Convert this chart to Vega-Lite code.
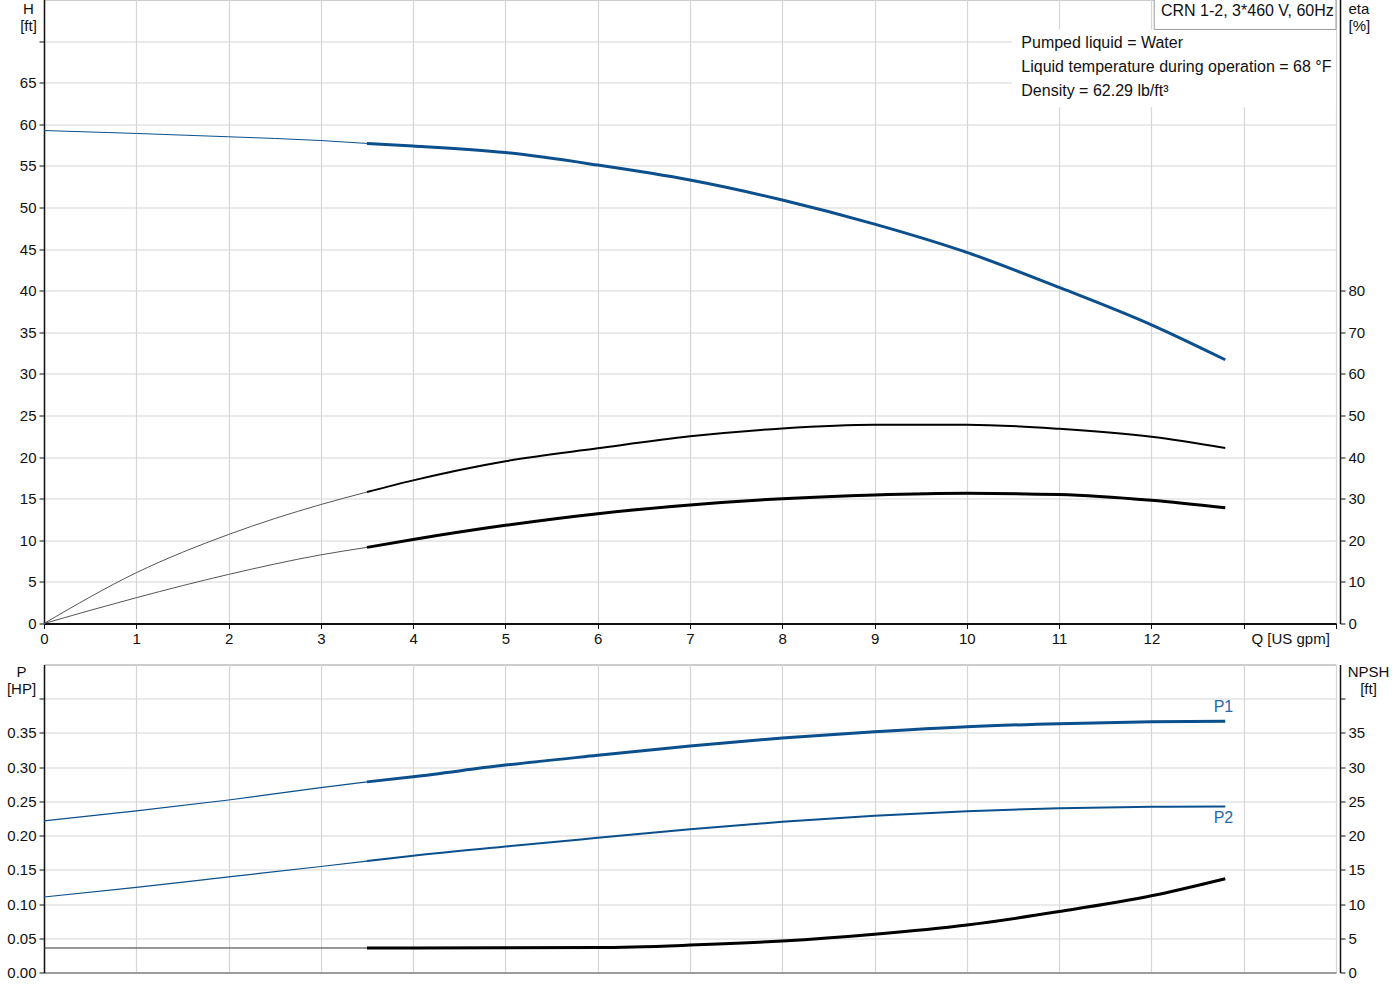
{
  "$schema": "https://vega.github.io/schema/vega-lite/v6.json",
  "description": "CRN 1-2 pump curves: head, efficiency, power and NPSH against flow.",
  "padding": {"left": 5, "top": -1.5, "right": 0, "bottom": 0},
  "background": "white",
  "config": {
    "font": "Liberation Sans",
    "view": {"stroke": "#9a9a9a", "strokeWidth": 1},
    "axis": {
      "labelFont": "Liberation Sans",
      "labelFontSize": 15,
      "labelColor": "#111111",
      "titleFont": "Liberation Sans",
      "titleFontSize": 15,
      "titleFontWeight": "normal",
      "titleColor": "#111111",
      "gridColor": "#d6d6d6",
      "gridWidth": 1.2,
      "tickColor": "#111111",
      "domainColor": "#111111",
      "domainWidth": 1.5,
      "tickSize": 5,
      "labelPadding": 3,
      "labelFlush": false
    },
    "text": {"font": "Liberation Sans"}
  },
  "datasets": {
    "curves": [
      {"curve": "H", "seg": "thin", "q": 0, "v": 59.25},
      {"curve": "H", "seg": "thin", "q": 1, "v": 58.9},
      {"curve": "H", "seg": "thin", "q": 2, "v": 58.5},
      {"curve": "H", "seg": "thin", "q": 3, "v": 58.05},
      {"curve": "H", "seg": "thin", "q": 3.5, "v": 57.7},
      {"curve": "H", "seg": "thick", "q": 3.5, "v": 57.7},
      {"curve": "H", "seg": "thick", "q": 4, "v": 57.4},
      {"curve": "H", "seg": "thick", "q": 5, "v": 56.6},
      {"curve": "H", "seg": "thick", "q": 6, "v": 55.1},
      {"curve": "H", "seg": "thick", "q": 7, "v": 53.3},
      {"curve": "H", "seg": "thick", "q": 8, "v": 50.9},
      {"curve": "H", "seg": "thick", "q": 9, "v": 48.0},
      {"curve": "H", "seg": "thick", "q": 10, "v": 44.6},
      {"curve": "H", "seg": "thick", "q": 11, "v": 40.4},
      {"curve": "H", "seg": "thick", "q": 12, "v": 35.9},
      {"curve": "H", "seg": "thick", "q": 12.8, "v": 31.7},

      {"curve": "eta1", "seg": "thin", "q": 0, "v": 0},
      {"curve": "eta1", "seg": "thin", "q": 1, "v": 12.2},
      {"curve": "eta1", "seg": "thin", "q": 2, "v": 21.4},
      {"curve": "eta1", "seg": "thin", "q": 3, "v": 28.6},
      {"curve": "eta1", "seg": "thin", "q": 3.5, "v": 31.6},
      {"curve": "eta1", "seg": "thick", "q": 3.5, "v": 31.6},
      {"curve": "eta1", "seg": "thick", "q": 4, "v": 34.4},
      {"curve": "eta1", "seg": "thick", "q": 5, "v": 39.0},
      {"curve": "eta1", "seg": "thick", "q": 6, "v": 42.1},
      {"curve": "eta1", "seg": "thick", "q": 7, "v": 45.0},
      {"curve": "eta1", "seg": "thick", "q": 8, "v": 46.9},
      {"curve": "eta1", "seg": "thick", "q": 9, "v": 47.8},
      {"curve": "eta1", "seg": "thick", "q": 10, "v": 47.8},
      {"curve": "eta1", "seg": "thick", "q": 11, "v": 46.8},
      {"curve": "eta1", "seg": "thick", "q": 12, "v": 44.9},
      {"curve": "eta1", "seg": "thick", "q": 12.8, "v": 42.2},

      {"curve": "eta2", "seg": "thin", "q": 0, "v": 0},
      {"curve": "eta2", "seg": "thin", "q": 1, "v": 6.2},
      {"curve": "eta2", "seg": "thin", "q": 2, "v": 11.8},
      {"curve": "eta2", "seg": "thin", "q": 3, "v": 16.5},
      {"curve": "eta2", "seg": "thin", "q": 3.5, "v": 18.3},
      {"curve": "eta2", "seg": "thick", "q": 3.5, "v": 18.3},
      {"curve": "eta2", "seg": "thick", "q": 4, "v": 20.2},
      {"curve": "eta2", "seg": "thick", "q": 5, "v": 23.6},
      {"curve": "eta2", "seg": "thick", "q": 6, "v": 26.4},
      {"curve": "eta2", "seg": "thick", "q": 7, "v": 28.5},
      {"curve": "eta2", "seg": "thick", "q": 8, "v": 30.0},
      {"curve": "eta2", "seg": "thick", "q": 9, "v": 30.9},
      {"curve": "eta2", "seg": "thick", "q": 10, "v": 31.3},
      {"curve": "eta2", "seg": "thick", "q": 11, "v": 31.0},
      {"curve": "eta2", "seg": "thick", "q": 12, "v": 29.6},
      {"curve": "eta2", "seg": "thick", "q": 12.8, "v": 27.8},

      {"curve": "P1", "seg": "thin", "q": 0, "v": 0.2215},
      {"curve": "P1", "seg": "thin", "q": 1, "v": 0.236},
      {"curve": "P1", "seg": "thin", "q": 2, "v": 0.252},
      {"curve": "P1", "seg": "thin", "q": 3, "v": 0.270},
      {"curve": "P1", "seg": "thin", "q": 3.5, "v": 0.2785},
      {"curve": "P1", "seg": "thick", "q": 3.5, "v": 0.2785},
      {"curve": "P1", "seg": "thick", "q": 4, "v": 0.286},
      {"curve": "P1", "seg": "thick", "q": 5, "v": 0.303},
      {"curve": "P1", "seg": "thick", "q": 6, "v": 0.3173},
      {"curve": "P1", "seg": "thick", "q": 7, "v": 0.3309},
      {"curve": "P1", "seg": "thick", "q": 8, "v": 0.3426},
      {"curve": "P1", "seg": "thick", "q": 9, "v": 0.3518},
      {"curve": "P1", "seg": "thick", "q": 10, "v": 0.3591},
      {"curve": "P1", "seg": "thick", "q": 11, "v": 0.3635},
      {"curve": "P1", "seg": "thick", "q": 12, "v": 0.3662},
      {"curve": "P1", "seg": "thick", "q": 12.8, "v": 0.3670},

      {"curve": "P2", "seg": "thin", "q": 0, "v": 0.1103},
      {"curve": "P2", "seg": "thin", "q": 1, "v": 0.1245},
      {"curve": "P2", "seg": "thin", "q": 2, "v": 0.1397},
      {"curve": "P2", "seg": "thin", "q": 3, "v": 0.1549},
      {"curve": "P2", "seg": "thin", "q": 3.5, "v": 0.1628},
      {"curve": "P2", "seg": "thick", "q": 3.5, "v": 0.1628},
      {"curve": "P2", "seg": "thick", "q": 4, "v": 0.1706},
      {"curve": "P2", "seg": "thick", "q": 5, "v": 0.1840},
      {"curve": "P2", "seg": "thick", "q": 6, "v": 0.1968},
      {"curve": "P2", "seg": "thick", "q": 7, "v": 0.2094},
      {"curve": "P2", "seg": "thick", "q": 8, "v": 0.2201},
      {"curve": "P2", "seg": "thick", "q": 9, "v": 0.2289},
      {"curve": "P2", "seg": "thick", "q": 10, "v": 0.2357},
      {"curve": "P2", "seg": "thick", "q": 11, "v": 0.2400},
      {"curve": "P2", "seg": "thick", "q": 12, "v": 0.2420},
      {"curve": "P2", "seg": "thick", "q": 12.8, "v": 0.2424},

      {"curve": "NPSH", "seg": "thin", "q": 0, "v": 3.58},
      {"curve": "NPSH", "seg": "thin", "q": 1, "v": 3.58},
      {"curve": "NPSH", "seg": "thin", "q": 2, "v": 3.58},
      {"curve": "NPSH", "seg": "thin", "q": 3, "v": 3.58},
      {"curve": "NPSH", "seg": "thin", "q": 3.5, "v": 3.58},
      {"curve": "NPSH", "seg": "thick", "q": 3.5, "v": 3.58},
      {"curve": "NPSH", "seg": "thick", "q": 4, "v": 3.58},
      {"curve": "NPSH", "seg": "thick", "q": 5, "v": 3.6},
      {"curve": "NPSH", "seg": "thick", "q": 6, "v": 3.64},
      {"curve": "NPSH", "seg": "thick", "q": 7, "v": 4.0},
      {"curve": "NPSH", "seg": "thick", "q": 8, "v": 4.6},
      {"curve": "NPSH", "seg": "thick", "q": 9, "v": 5.6},
      {"curve": "NPSH", "seg": "thick", "q": 10, "v": 6.95},
      {"curve": "NPSH", "seg": "thick", "q": 11, "v": 8.9},
      {"curve": "NPSH", "seg": "thick", "q": 12, "v": 11.2},
      {"curve": "NPSH", "seg": "thick", "q": 12.8, "v": 13.7}
    ],
    "boxes": [
      {"kind": "mask", "q": 10.49, "q2": 14, "v": 62.05, "v2": 71.4},
      {"kind": "box", "q": 12.03, "q2": 14, "v": 71.4, "v2": 75}
    ],
    "notes": [
      {"kind": "info", "q": 10.59, "v": 69.75, "label": "Pumped liquid = Water"},
      {"kind": "info", "q": 10.59, "v": 66.86, "label": "Liquid temperature during operation = 68 °F"},
      {"kind": "info", "q": 10.59, "v": 63.98, "label": "Density = 62.29 lb/ft³"},
      {"kind": "head", "q": 13.04, "v": 73.6, "label": "CRN 1-2, 3*460 V, 60Hz"}
    ],
    "tags": [
      {"q": 12.78, "v": 0.388, "label": "P1"},
      {"q": 12.78, "v": 0.226, "label": "P2"}
    ]
  },
  "bounds": "flush",
  "spacing": 41,
  "vconcat": [
    {
      "width": 1292,
      "height": 624,
      "layer": [
        {
          "encoding": {
            "x": {
              "field": "q",
              "type": "quantitative",
              "scale": {"domain": [0, 14], "nice": false, "zero": false},
              "axis": {
                "values": [0, 1, 2, 3, 4, 5, 6, 7, 8, 9, 10, 11, 12, 13, 14],
                "format": "d",
                "labelExpr": "datum.value > 12 ? '' : datum.label",
                "title": "Q [US gpm]",
                "titleAlign": "left",
                "titleBaseline": "middle",
                "titleX": 1207,
                "titleY": 15,
                "domainWidth": 2
              }
            },
            "y": {
              "field": "v",
              "type": "quantitative",
              "scale": {"domain": [0, 75], "nice": false, "zero": false},
              "axis": {
                "values": [0, 5, 10, 15, 20, 25, 30, 35, 40, 45, 50, 55, 60, 65, 70],
                "labelExpr": "datum.value > 65 ? '' : datum.label",
                "title": ["H", "[ft]"],
                "titleAngle": 0,
                "titleAlign": "center",
                "titleBaseline": "top",
                "titleX": -16,
                "titleY": 2,
                "titleLineHeight": 17
              }
            }
          },
          "layer": [
            {
              "data": {"name": "boxes"},
              "transform": [{"filter": "datum.kind == 'mask'"}],
              "mark": {"type": "rect", "fill": "white", "strokeWidth": 0},
              "encoding": {"x2": {"field": "q2"}, "y2": {"field": "v2"}}
            },
            {
              "data": {"name": "boxes"},
              "transform": [{"filter": "datum.kind == 'box'"}],
              "mark": {"type": "rect", "fill": "white", "stroke": "#9a9a9a", "strokeWidth": 1},
              "encoding": {"x2": {"field": "q2"}, "y2": {"field": "v2"}}
            },
            {
              "data": {"name": "curves"},
              "transform": [{"filter": "datum.curve == 'H' && datum.seg == 'thin'"}],
              "mark": {"type": "line", "interpolate": "monotone", "color": "#0b4f8c", "strokeWidth": 1}
            },
            {
              "data": {"name": "curves"},
              "transform": [{"filter": "datum.curve == 'H' && datum.seg == 'thick'"}],
              "mark": {"type": "line", "interpolate": "monotone", "color": "#0b4f8c", "strokeWidth": 3}
            },
            {
              "data": {"name": "notes"},
              "transform": [{"filter": "datum.kind == 'info'"}],
              "mark": {"type": "text", "align": "left", "baseline": "middle", "fontSize": 16, "color": "#111111"},
              "encoding": {"text": {"field": "label"}}
            },
            {
              "data": {"name": "notes"},
              "transform": [{"filter": "datum.kind == 'head'"}],
              "mark": {"type": "text", "align": "center", "baseline": "middle", "fontSize": 16, "color": "#111111"},
              "encoding": {"text": {"field": "label"}}
            }
          ]
        },
        {
          "data": {"name": "curves"},
          "encoding": {
            "x": {"field": "q", "type": "quantitative"},
            "y": {
              "field": "v",
              "type": "quantitative",
              "scale": {"domain": [0, 150], "nice": false, "zero": false},
              "axis": {
                "orient": "right",
                "offset": 4,
                "grid": false,
                "values": [0, 10, 20, 30, 40, 50, 60, 70, 80],
                "title": ["eta", "[%]"],
                "titleAngle": 0,
                "titleAlign": "left",
                "titleBaseline": "top",
                "titleX": 8,
                "titleY": 2,
                "titleLineHeight": 17
              }
            }
          },
          "layer": [
            {
              "transform": [{"filter": "(datum.curve == 'eta1' || datum.curve == 'eta2') && datum.seg == 'thin'"}],
              "mark": {"type": "line", "interpolate": "monotone", "color": "#555555", "strokeWidth": 1},
              "encoding": {"detail": {"field": "curve"}}
            },
            {
              "transform": [{"filter": "datum.curve == 'eta1' && datum.seg == 'thick'"}],
              "mark": {"type": "line", "interpolate": "monotone", "color": "#000000", "strokeWidth": 2}
            },
            {
              "transform": [{"filter": "datum.curve == 'eta2' && datum.seg == 'thick'"}],
              "mark": {"type": "line", "interpolate": "monotone", "color": "#000000", "strokeWidth": 3}
            }
          ]
        }
      ],
      "resolve": {"scale": {"y": "independent"}}
    },
    {
      "width": 1292,
      "height": 308,
      "layer": [
        {
          "encoding": {
            "x": {
              "field": "q",
              "type": "quantitative",
              "scale": {"domain": [0, 14], "nice": false, "zero": false},
              "axis": {
                "values": [0, 1, 2, 3, 4, 5, 6, 7, 8, 9, 10, 11, 12, 13, 14],
                "labels": false,
                "ticks": false,
                "title": null,
                "domainColor": "#8a8a8a",
                "domainWidth": 1.5
              }
            },
            "y": {
              "field": "v",
              "type": "quantitative",
              "scale": {"domain": [0, 0.45], "nice": false, "zero": false},
              "axis": {
                "values": [0, 0.05, 0.1, 0.15, 0.2, 0.25, 0.3, 0.35, 0.4],
                "format": ".2f",
                "labelExpr": "datum.value > 0.37 ? '' : datum.label",
                "title": ["P", "[HP]"],
                "titleAngle": 0,
                "titleAlign": "center",
                "titleBaseline": "top",
                "titleX": -23,
                "titleY": 0,
                "titleLineHeight": 17
              }
            }
          },
          "layer": [
            {
              "data": {"name": "curves"},
              "transform": [{"filter": "(datum.curve == 'P1' || datum.curve == 'P2') && datum.seg == 'thin'"}],
              "mark": {"type": "line", "interpolate": "monotone", "color": "#0b4f8c", "strokeWidth": 1.2},
              "encoding": {"detail": {"field": "curve"}}
            },
            {
              "data": {"name": "curves"},
              "transform": [{"filter": "datum.curve == 'P1' && datum.seg == 'thick'"}],
              "mark": {"type": "line", "interpolate": "monotone", "color": "#0b4f8c", "strokeWidth": 3}
            },
            {
              "data": {"name": "curves"},
              "transform": [{"filter": "datum.curve == 'P2' && datum.seg == 'thick'"}],
              "mark": {"type": "line", "interpolate": "monotone", "color": "#0b4f8c", "strokeWidth": 2}
            },
            {
              "data": {"name": "tags"},
              "mark": {"type": "text", "align": "center", "baseline": "middle", "fontSize": 16, "color": "#2a69a8"},
              "encoding": {"text": {"field": "label"}}
            }
          ]
        },
        {
          "data": {"name": "curves"},
          "encoding": {
            "x": {"field": "q", "type": "quantitative"},
            "y": {
              "field": "v",
              "type": "quantitative",
              "scale": {"domain": [0, 45], "nice": false, "zero": false},
              "axis": {
                "orient": "right",
                "offset": 4,
                "grid": false,
                "values": [0, 5, 10, 15, 20, 25, 30, 35, 40],
                "labelExpr": "datum.value > 37 ? '' : datum.label",
                "title": ["NPSH", "[ft]"],
                "titleAngle": 0,
                "titleAlign": "center",
                "titleBaseline": "top",
                "titleX": 28,
                "titleY": 0,
                "titleLineHeight": 17
              }
            }
          },
          "layer": [
            {
              "transform": [{"filter": "datum.curve == 'NPSH' && datum.seg == 'thin'"}],
              "mark": {"type": "line", "interpolate": "monotone", "color": "#333333", "strokeWidth": 1}
            },
            {
              "transform": [{"filter": "datum.curve == 'NPSH' && datum.seg == 'thick'"}],
              "mark": {"type": "line", "interpolate": "monotone", "color": "#000000", "strokeWidth": 3}
            }
          ]
        }
      ],
      "resolve": {"scale": {"y": "independent"}}
    }
  ]
}
